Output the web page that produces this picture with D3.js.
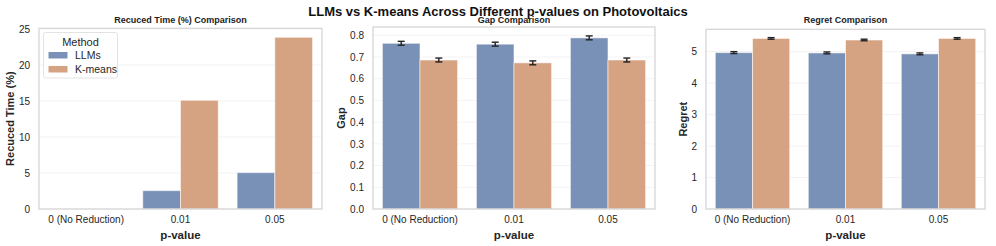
<!DOCTYPE html>
<html>
<head>
<meta charset="utf-8">
<script src="https://cdn.jsdelivr.net/npm/d3@7/dist/d3.min.js"></script>
<style>
  body { margin: 0; background: #fff; }
  svg { font-family: "Liberation Sans", Arial, sans-serif; }
</style>
</head>
<body>
<svg id="chart" width="996" height="246"></svg>
<script>
var categories = ["0 (No Reduction)", "0.01", "0.05"];
var methods = ["LLMs", "K-means"];
var colors = ["#7a91b7", "#d5a282"];

// reduced time (%) - no error bars
var timeLLMs = [0, 2.55, 5.05];
var timeKmeans = [0, 15.1, 23.85];

var gapLLMs = [0.763, 0.759, 0.788];
var gapKmeans = [0.686, 0.673, 0.686];
var gapErrLLMs = [0.009, 0.009, 0.009];
var gapErrKmeans = [0.009, 0.009, 0.009];

var regretLLMs = [4.97, 4.96, 4.93];
var regretKmeans = [5.42, 5.37, 5.42];
var regretErrLLMs = [0.03, 0.03, 0.03];
var regretErrKmeans = [0.025, 0.025, 0.025];

var timeTicks = [0, 5, 10, 15, 20, 25];
var gapTicks = [0, 0.1, 0.2, 0.3, 0.4, 0.5, 0.6, 0.7, 0.8];
var regretTicks = [0, 1, 2, 3, 4, 5];

var svg = d3.select("#chart");

svg.append("text")
  .attr("x", 498).attr("y", 15.5)
  .attr("text-anchor", "middle")
  .attr("font-size", 13).attr("font-weight", "bold")
  .attr("fill", "#111")
  .text("LLMs vs K-means Across Different p-values on Photovoltaics");

var panels = [
  { title: "Recuced Time (%) Comparison", ylabel: "Recuced Time (%)", left: 39, right: 322, top: 28.3,
    ymax: 25.1, ticks: timeTicks, fmt: d3.format("d"), vals: [timeLLMs, timeKmeans], errs: null, ylabelX: 10, legend: true },
  { title: "Gap Comparison", ylabel: "Gap", left: 373, right: 655, top: 27,
    ymax: 0.838, ticks: gapTicks, fmt: d3.format(".1f"), vals: [gapLLMs, gapKmeans], errs: [gapErrLLMs, gapErrKmeans], ylabelX: 341 },
  { title: "Regret Comparison", ylabel: "Regret", left: 706, right: 985, top: 29.3,
    ymax: 5.71, ticks: regretTicks, fmt: d3.format("d"), vals: [regretLLMs, regretKmeans], errs: [regretErrLLMs, regretErrKmeans], ylabelX: 683 }
];

var bottom = 209;

panels.forEach(function(p) {
  var g = svg.append("g");
  var x = d3.scaleBand().domain(categories).range([p.left, p.right]).paddingInner(0.2).paddingOuter(0.1);
  var xh = d3.scaleBand().domain(methods).range([0, x.bandwidth()]);
  var y = d3.scaleLinear().domain([0, p.ymax]).range([bottom, p.top]);

  // grid
  g.selectAll("line.grid").data(p.ticks).enter().append("line")
    .attr("x1", p.left).attr("x2", p.right)
    .attr("y1", d => y(d)).attr("y2", d => y(d))
    .attr("stroke", "#f3f3f3").attr("stroke-width", 1);

  // bars
  methods.forEach(function(m, mi) {
    g.selectAll("rect.b" + mi).data(categories).enter().append("rect")
      .attr("x", d => x(d) + xh(m))
      .attr("width", xh.bandwidth())
      .attr("y", (d, i) => y(p.vals[mi][i]))
      .attr("height", (d, i) => bottom - y(p.vals[mi][i]))
      .attr("fill", colors[mi])
      .attr("stroke", "#fff").attr("stroke-opacity", 0.55).attr("stroke-width", 1);
  });

  // error bars
  if (p.errs) {
    methods.forEach(function(m, mi) {
      categories.forEach(function(c, i) {
        var cx = x(c) + xh(m) + xh.bandwidth() / 2;
        var v = p.vals[mi][i], e = p.errs[mi][i];
        g.append("line").attr("x1", cx).attr("x2", cx)
          .attr("y1", y(v - e)).attr("y2", y(v + e))
          .attr("stroke", "#222").attr("stroke-width", 1.4);
        [v - e, v + e].forEach(function(t) {
          g.append("line").attr("x1", cx - 3.5).attr("x2", cx + 3.5)
            .attr("y1", y(t)).attr("y2", y(t))
            .attr("stroke", "#222").attr("stroke-width", 1.4);
        });
      });
    });
  }

  // frame
  g.append("rect")
    .attr("x", p.left).attr("y", p.top)
    .attr("width", p.right - p.left).attr("height", bottom - p.top)
    .attr("fill", "none").attr("stroke", "#d6d6d6").attr("stroke-width", 1.3);

  // y axis
  var ya = g.append("g").attr("transform", "translate(" + p.left + ",0)")
    .call(d3.axisLeft(y).tickValues(p.ticks).tickFormat(p.fmt).tickSize(0).tickPadding(9));
  ya.select(".domain").remove();
  ya.selectAll("text").attr("font-size", 10).attr("fill", "#262626")
    .attr("font-family", "Liberation Sans, Arial, sans-serif");

  // x axis
  var xa = g.append("g").attr("transform", "translate(0," + bottom + ")")
    .call(d3.axisBottom(x).tickSize(0).tickPadding(7));
  xa.select(".domain").remove();
  xa.selectAll("text").attr("font-size", 10).attr("fill", "#262626")
    .attr("font-family", "Liberation Sans, Arial, sans-serif");

  // titles
  g.append("text")
    .attr("x", (p.left + p.right) / 2).attr("y", 23)
    .attr("text-anchor", "middle").attr("font-size", 9).attr("font-weight", "bold")
    .attr("fill", "#222").text(p.title);
  g.append("text")
    .attr("x", (p.left + p.right) / 2).attr("y", 239)
    .attr("text-anchor", "middle").attr("font-size", 11.5).attr("font-weight", "bold")
    .attr("fill", "#262626").text("p-value");
  g.append("text")
    .attr("transform", "translate(" + (p.ylabelX + 4) + "," + ((bottom + p.top) / 2) + ") rotate(-90)")
    .attr("text-anchor", "middle").attr("font-size", 11).attr("font-weight", "bold")
    .attr("fill", "#262626").text(p.ylabel);

  if (p.legend) {
    var lg = g.append("g");
    lg.append("rect").attr("x", 43.5).attr("y", 32.5).attr("width", 74).attr("height", 45.5)
      .attr("rx", 2).attr("fill", "#fff").attr("fill-opacity", 0.8)
      .attr("stroke", "#dcdcdc").attr("stroke-width", 0.8);
    lg.append("text").attr("x", 80.5).attr("y", 46).attr("text-anchor", "middle")
      .attr("font-size", 11).attr("fill", "#262626").text("Method");
    methods.forEach(function(m, mi) {
      var cy = 55 + mi * 14;
      lg.append("rect").attr("x", 48.5).attr("y", cy - 3).attr("width", 19).attr("height", 6.5)
        .attr("fill", colors[mi]);
      lg.append("text").attr("x", 75).attr("y", cy + 3.8)
        .attr("font-size", 10.5).attr("fill", "#262626").text(m);
    });
  }
});
</script>
</body>
</html>
